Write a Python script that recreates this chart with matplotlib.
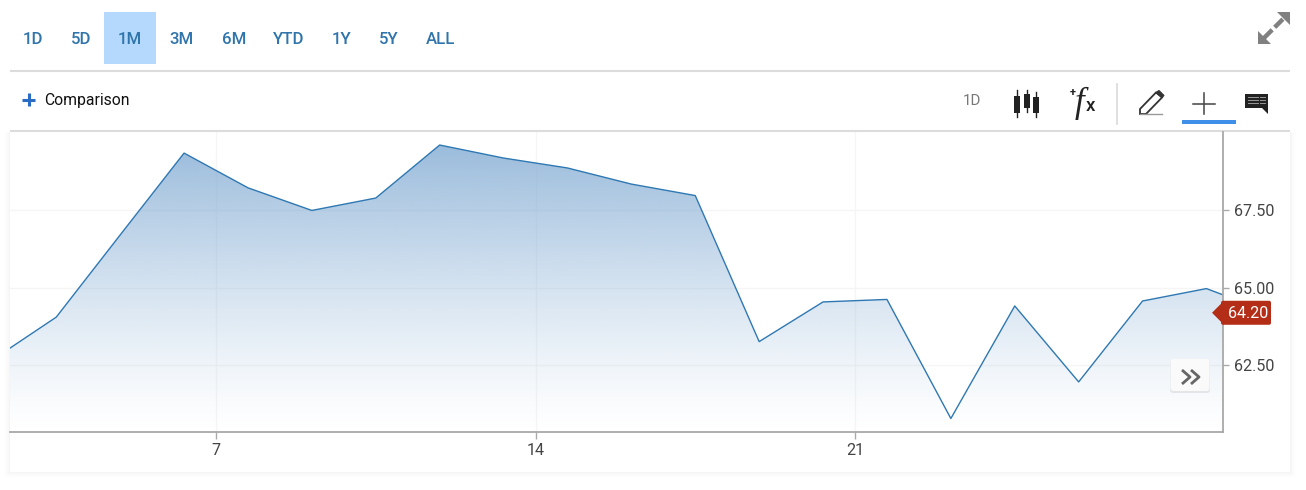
import numpy as np
import matplotlib
matplotlib.use("Agg")
import matplotlib.pyplot as plt
from matplotlib.patches import Rectangle, Polygon, FancyBboxPatch

W, H = 1306, 490

prices = [62.68, 64.06, 66.71, 69.35, 68.23, 67.50, 67.90, 69.61, 69.19, 68.87,
          68.35, 67.98, 63.27, 64.55, 64.63, 60.79, 64.42, 61.97, 64.58, 64.98, 64.20]
tick_days = ["7", "14", "21"]
tick_sessions = [3.5, 8.5, 13.5]
price_ticks = [62.5, 65.0, 67.5]
ranges = ["1D", "5D", "1M", "3M", "6M", "YTD", "1Y", "5Y", "ALL"]
range_x = [33, 81, 130, 182, 234, 289, 342, 389, 441]

plt.rcParams["font.family"] = ["Roboto", "DejaVu Sans"]
fig = plt.figure(figsize=(W / 100, H / 100), dpi=100, facecolor="white")

ui = fig.add_axes([0, 0, 1, 1], zorder=0)
ui.set_xlim(0, W)
ui.set_ylim(H, 0)
ui.axis("off")

# card shadow
for i, a in zip(range(6, 0, -1), [0.002, 0.003, 0.004, 0.006, 0.008, 0.012]):
    ui.add_patch(Rectangle((10 - i, 132), 1280 + 2 * i, 340 + i, fc="black", ec="none", alpha=a))
ui.add_patch(Rectangle((10, 72), 1280, 400, fc="white", ec="none"))

# top bar
ui.add_patch(Rectangle((104, 12), 52, 52, fc="#b5d9fd", ec="none"))
for lab, x in zip(ranges, range_x):
    ui.text(x, 39, lab, ha="center", va="center", fontsize=12.1, color="#2f74ab", fontweight="medium")
ui.plot([10, 1290], [71, 71], color="#dcdcdc", lw=1.5, solid_capstyle="butt")
ui.plot([10, 1290], [131, 131], color="#dcdcdc", lw=1.5, solid_capstyle="butt")

# comparison
ui.plot([22, 35], [100, 100], color="#2a6cc4", lw=2.2, solid_capstyle="butt")
ui.plot([28.5, 28.5], [93.5, 106.5], color="#2a6cc4", lw=2.2, solid_capstyle="butt")
ui.text(44, 100.5, "Comparison", ha="left", va="center", fontsize=11.3, color="#111111")

# expand icon
g = "#808080"
ui.plot([1264, 1284], [38, 18], color=g, lw=3.2, solid_capstyle="butt", dashes=(2.6, 0.8))
ui.add_patch(Polygon([[1258, 44], [1258, 31], [1271, 44]], fc=g, ec="none"))
ui.add_patch(Polygon([[1290, 12], [1290, 25], [1277, 12]], fc=g, ec="none"))

# toolbar
ui.text(972, 100.5, "1D", ha="center", va="center", fontsize=10.8, color="#777777")
for x, t, b, t2, b2 in [(1017, 96, 113, 90, 117), (1027, 94, 108, 90, 112), (1036, 97, 113, 92, 117)]:
    ui.plot([x, x], [t2, b2], color="#222222", lw=1)
    ui.add_patch(Rectangle((x - 3.2, t), 6.4, b - t, fc="#222222", ec="none"))
ui.text(1079, 103, "f", ha="center", va="center", fontsize=25, color="#222222",
        family=["Liberation Serif"], style="italic")
ui.text(1090, 106, "x", ha="center", va="center", fontsize=13.5, color="#222222", fontweight="medium")
ui.text(1073, 93, "+", ha="center", va="center", fontsize=8, color="#222222", fontweight="bold")
ui.plot([1117, 1117], [84, 124], color="#dddddd", lw=1.3)
# pencil
ui.add_patch(Polygon([[1140, 114], [1140, 109], [1156, 92.5], [1162, 97.5], [1146, 114]],
                     fc="white", ec="#333333", lw=1.3))
ui.add_patch(Polygon([[1156, 92.5], [1159, 90.5], [1164, 95.5], [1162, 97.5]], fc="#333333", ec="#333333", lw=0.8))
ui.plot([1140, 1162], [114.5, 114.5], color="#999999", lw=1)
# crosshair
ui.plot([1193, 1215], [104, 104], color="#444444", lw=1.1)
ui.plot([1204, 1204], [93, 114], color="#444444", lw=1.1)
ui.add_patch(Rectangle((1182, 120), 54, 4, fc="#3f8ee8", ec="none"))
# comment
ui.add_patch(Polygon([[1245, 94], [1268, 94], [1268, 114], [1262, 108], [1245, 108]], fc="#222222", ec="none"))
for y0 in [97.5, 100.5, 103.5]:
    ui.plot([1248, 1258], [y0, y0], color="#999999", lw=0.7)
    ui.plot([1260, 1265], [y0, y0], color="#999999", lw=0.7)

# chart
ax = fig.add_axes([10 / W, 1 - 432 / H, (1223 - 10) / W, 300 / H], zorder=1)
ax.patch.set_alpha(0)
xs = np.arange(len(prices))
XLIM = (0.276, 19.259)
YLIM = (60.355, 70.03)
ax.grid(True, color="#f5f5f5", lw=1)
ax.set_axisbelow(True)
ax.set_xticks(tick_sessions)
ax.set_xticklabels(tick_days)
ax.set_yticks(price_ticks)
ax.set_yticklabels([f"{v:.2f}" for v in price_ticks])
ax.yaxis.tick_right()
ax.tick_params(axis="both", length=4, width=1, color="#aaaaaa", labelsize=11.6, labelcolor="#444444", pad=4)
ax.tick_params(axis="x", pad=3, length=5)
for s in ["top", "left"]:
    ax.spines[s].set_visible(False)
for s in ["right", "bottom"]:
    ax.spines[s].set_color("#a8a8a8")
    ax.spines[s].set_linewidth(1.3)

grad = np.zeros((256, 1, 4))
grad[:, 0, :3] = np.array([0x7f, 0xa9, 0xd2]) / 255
grad[:, 0, 3] = np.linspace(0.82, 0.0, 256) ** 1.25
im = ax.imshow(grad, extent=[0, 20, YLIM[0], max(prices)], origin="upper", aspect="auto", zorder=1.5)
verts = np.vstack([np.column_stack([xs, prices]), [[xs[-1], YLIM[0]], [xs[0], YLIM[0]]]])
im.set_clip_path(Polygon(verts, closed=True, transform=ax.transData))
ax.set_xlim(*XLIM)
ax.set_ylim(*YLIM)
ax.plot(xs, prices, color="#2f78b2", lw=1.0, zorder=2)

# overlays, placed on top of the chart
top = fig.add_axes([0, 0, 1, 1], zorder=2)
top.set_xlim(0, W)
top.set_ylim(H, 0)
top.axis("off")
py = H - ax.transData.transform((1, prices[-1]))[1]
top.add_patch(FancyBboxPatch((1221, py - 12), 50, 24, boxstyle="round,pad=0,rounding_size=2",
                             fc="#b32d17", ec="none"))
top.add_patch(Polygon([[1212, py], [1224, py - 12], [1224, py + 12]], fc="#b32d17", ec="none"))
top.text(1248, py + 0.5, f"{prices[-1]:.2f}", ha="center", va="center", fontsize=11.6, color="white")

top.add_patch(FancyBboxPatch((1171, 361), 38, 31, boxstyle="round,pad=1,rounding_size=3",
                             fc="#d9d9d9", ec="none", alpha=0.6))
top.add_patch(FancyBboxPatch((1171.5, 360), 37, 30, boxstyle="round,pad=1,rounding_size=3",
                             fc="#fafafa", ec="none"))
for dx in [0, 9]:
    top.plot(np.array([1182, 1190, 1182]) + dx, [370, 377, 384], color="#666666", lw=2, solid_capstyle="butt")

fig.savefig("out.png", dpi=100, facecolor="white")
